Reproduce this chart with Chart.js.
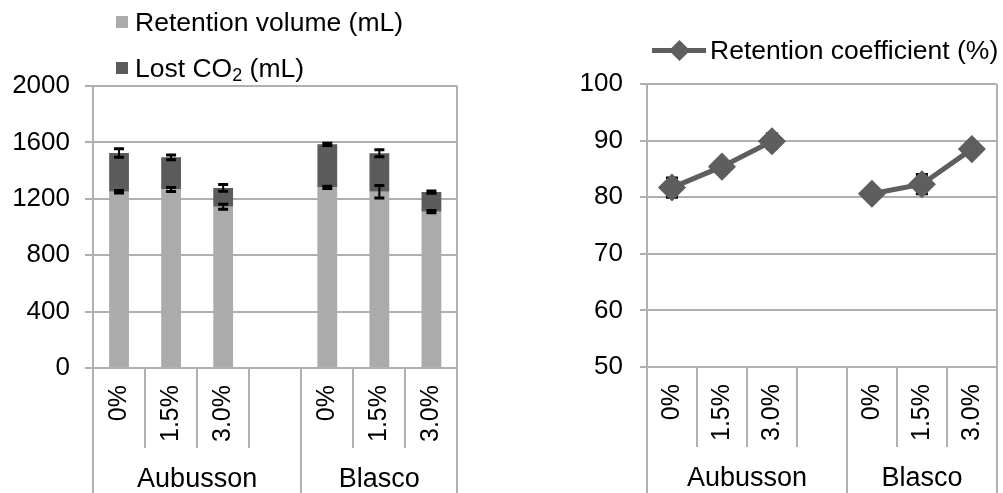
<!DOCTYPE html>
<html>
<head>
<meta charset="utf-8">
<script src="https://cdn.jsdelivr.net/npm/chart.js@4.4.1/dist/chart.umd.min.js"></script>
<style>
  html, body { margin: 0; padding: 0; background: #fff; overflow: hidden; }
  body { width: 1003px; height: 493px; position: relative; font-family: "Liberation Sans", Arial, sans-serif; }
  canvas { position: absolute; top: 0; }
  .lg { position: absolute; font-size: 26.5px; line-height: 30px; color: #000; white-space: nowrap; }
  .sq { position: absolute; width: 12px; height: 12px; }
  .lg sub { font-size: 18px; vertical-align: -4px; line-height: 0; }
</style>
</head>
<body>
<canvas id="volumeChart" width="480" height="493" style="left:0"></canvas>
<canvas id="coefChart" width="520" height="493" style="left:500px"></canvas>

<div class="sq" style="left:116px; top:16px; background:#ababab"></div>
<div class="lg" style="left:135px; top:7px">Retention volume (mL)</div>
<div class="sq" style="left:116px; top:62px; background:#5c5c5c"></div>
<div class="lg" style="left:135px; top:53px">Lost CO<sub>2</sub> (mL)</div>

<div style="position:absolute; left:652px; top:48px; width:54px; height:5px; background:#5e5e5e"></div>
<div style="position:absolute; left:672px; top:43px; width:15px; height:15px; background:#5e5e5e; transform:rotate(45deg)"></div>
<div class="lg" style="left:710px; top:35px">Retention coefficient (%)</div>

<script>
// categories (blank slot separates the two varieties)
const categories = ["0%", "1.5%", "3.0%", "", "0%", "1.5%", "3.0%"];
const groups = ["Aubusson", "Blasco"];
const groupSizes = [4, 3];

// left chart (mL)
const retentionVolume = [1250, 1266, 1144, null, 1281, 1250, 1109];
const retentionVolumeErr = [8, 15, 18, null, 8, 44, 8];
const lostCO2 = [275, 228, 133, null, 305, 273, 139];
const lostCO2Err = [30, 17, 24, null, 8, 24, 8];
const volumeTicks = [0, 400, 800, 1200, 1600, 2000];

// right chart (%)
const retentionCoef = [81.7, 85.4, 89.9, null, 80.6, 82.3, 88.5];
const retentionCoefErr = [1.7, 0.6, 1.3, null, 0.4, 1.7, 0.4];
const coefTicks = [50, 60, 70, 80, 90, 100];

const FONT = "'Liberation Sans', Arial, sans-serif";
const GRID = "#b0b0b0";

// error bars from each dataset's "errors" array
function drawErrors(chart) {
    const ctx = chart.ctx;
    const y = chart.scales.y;
    const isBar = chart.config.type === "bar";
    ctx.save();
    ctx.strokeStyle = "#000";
    chart.data.datasets.forEach((ds, di) => {
        if (!ds.errors) return;
        const meta = chart.getDatasetMeta(di);
        meta.data.forEach((el, i) => {
            const err = ds.errors[i];
            if (err == null || ds.data[i] == null) return;
            let val = ds.data[i];
            if (isBar) {
                // stacked: error sits on top of the cumulative value
                val = 0;
                for (let k = 0; k <= di; k++) val += chart.data.datasets[k].data[i] || 0;
            }
            const yTop = y.getPixelForValue(val + err);
            const yBot = y.getPixelForValue(val - err);
            const cap = ds.capWidth || 5;
            ctx.lineWidth = 2;
            ctx.beginPath();
            ctx.moveTo(el.x, yTop);
            ctx.lineTo(el.x, yBot);
            ctx.stroke();
            ctx.lineWidth = 3;
            ctx.beginPath();
            ctx.moveTo(el.x - cap, yTop);
            ctx.lineTo(el.x + cap, yTop);
            ctx.moveTo(el.x - cap, yBot);
            ctx.lineTo(el.x + cap, yBot);
            ctx.stroke();
        });
    });
    ctx.restore();
}

const errorBars = {
    id: "errorBars",
    beforeDatasetsDraw(chart) { if (chart.config.type !== "bar") drawErrors(chart); },
    afterDatasetsDraw(chart) { if (chart.config.type === "bar") drawErrors(chart); }
};

// two-level category axis: separators and variety names
const groupAxis = {
    id: "groupAxis",
    afterDraw(chart) {
        const ctx = chart.ctx;
        const x = chart.scales.x;
        const area = chart.chartArea;
        const H = chart.height;
        const n = categories.length;
        const edge = k => {
            if (k === 0) return area.left;
            if (k === n) return area.right;
            return (x.getPixelForValue(k - 1) + x.getPixelForValue(k)) / 2;
        };
        const groupEdges = [0];
        groupSizes.forEach(s => groupEdges.push(groupEdges[groupEdges.length - 1] + s));

        ctx.save();
        ctx.strokeStyle = GRID;
        ctx.lineWidth = 2;
        for (let k = 0; k <= n; k++) {
            const px = Math.round(edge(k));
            ctx.beginPath();
            if (groupEdges.includes(k)) {
                ctx.moveTo(px, k === n ? area.top : area.bottom);
                ctx.lineTo(px, H);
            } else {
                ctx.moveTo(px, area.bottom);
                ctx.lineTo(px, area.bottom + 80);
            }
            ctx.stroke();
        }
        ctx.fillStyle = "#000";
        ctx.font = "27px " + FONT;
        ctx.textAlign = "center";
        ctx.textBaseline = "middle";
        groups.forEach((g, gi) => {
            const cx = (edge(groupEdges[gi]) + edge(groupEdges[gi + 1])) / 2;
            ctx.fillText(g, cx, area.bottom + 112);
        });
        ctx.restore();
    }
};

function xAxis(height) {
    return {
        stacked: true,
        offset: true,
        grid: { display: false, drawTicks: false, offset: true },
        border: { display: false },
        ticks: {
            autoSkip: false, minRotation: 90, maxRotation: 90, padding: 17,
            color: "#000", font: { family: FONT, size: 25 }
        },
        afterFit: s => { s.height = height; }
    };
}

new Chart(document.getElementById("volumeChart").getContext("2d"), {
    type: "bar",
    data: {
        labels: categories,
        datasets: [{
            label: "Retention volume (mL)",
            data: retentionVolume,
            errors: retentionVolumeErr,
            backgroundColor: "#ababab",
            barPercentage: 0.38,
            categoryPercentage: 1
        }, {
            label: "Lost CO2 (mL)",
            data: lostCO2,
            errors: lostCO2Err,
            backgroundColor: "#5c5c5c",
            barPercentage: 0.38,
            categoryPercentage: 1
        }]
    },
    options: {
        responsive: false,
        animation: false,
        layout: { padding: { top: 86, right: 22, left: 0, bottom: 0 } },
        plugins: { legend: { display: false }, tooltip: { enabled: false } },
        scales: {
            x: xAxis(125),
            y: {
                stacked: true,
                min: 0, max: 2000,
                afterBuildTicks: s => { s.ticks = volumeTicks.map(v => ({ value: v })); },
                ticks: {
                    padding: 15, color: "#000", font: { family: FONT, size: 26 },
                    callback: v => String(v)
                },
                grid: { color: GRID, lineWidth: 2, tickLength: 8 },
                border: { color: GRID, width: 2 },
                afterFit: s => { s.width = 93; }
            }
        }
    },
    plugins: [errorBars, groupAxis]
});

new Chart(document.getElementById("coefChart").getContext("2d"), {
    type: "line",
    data: {
        labels: categories,
        datasets: [{
            label: "Retention coefficient (%)",
            data: retentionCoef,
            errors: retentionCoefErr,
            capWidth: 6,
            borderColor: "#5e5e5e",
            backgroundColor: "#5e5e5e",
            borderWidth: 5,
            pointStyle: "rectRot",
            pointRadius: 10.5,
            spanGaps: false
        }]
    },
    options: {
        responsive: false,
        animation: false,
        layout: { padding: { top: 84, right: 13, left: 0, bottom: 0 } },
        plugins: { legend: { display: false }, tooltip: { enabled: false } },
        scales: {
            x: xAxis(126),
            y: {
                min: 50, max: 100,
                ticks: {
                    stepSize: 5, padding: 17, color: "#000", font: { family: FONT, size: 26 },
                    callback: v => coefTicks.includes(v) ? String(v) : ""
                },
                grid: {
                    lineWidth: 2, tickLength: 7,
                    color: c => coefTicks.includes(c.tick.value) ? GRID : "#dcdcdc"
                },
                border: { color: GRID, width: 2 },
                afterFit: s => { s.width = 147; }
            }
        }
    },
    plugins: [groupAxis, errorBars]
});
</script>
</body>
</html>
